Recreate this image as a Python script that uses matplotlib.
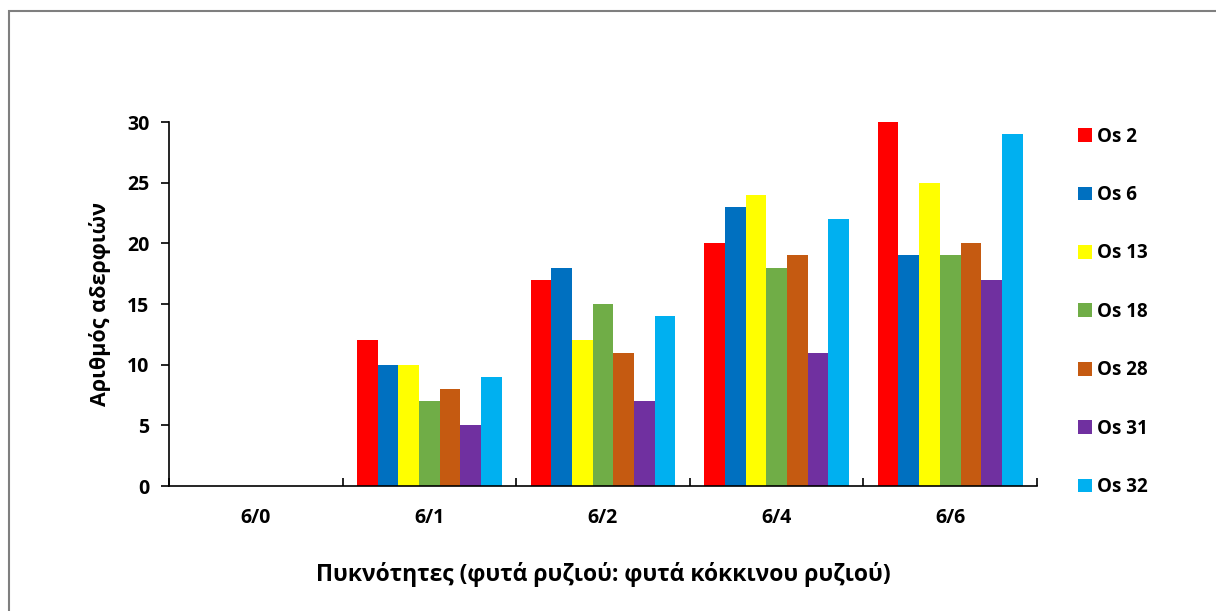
import numpy as np
import matplotlib
matplotlib.use("Agg")
import matplotlib.pyplot as plt
from matplotlib.patches import Rectangle

plt.rcParams['font.family'] = ['Open Sans', 'DejaVu Sans']
plt.rcParams['font.weight'] = 'bold'

# data
densities = ["6/0", "6/1", "6/2", "6/4", "6/6"]
lines = ["Os 2", "Os 6", "Os 13", "Os 18", "Os 28", "Os 31", "Os 32"]
os2 = [0, 12, 17, 20, 30]
os6 = [0, 10, 18, 23, 19]
os13 = [0, 10, 12, 24, 25]
os18 = [0, 7, 15, 18, 19]
os28 = [0, 8, 11, 19, 20]
os31 = [0, 5, 7, 11, 17]
os32 = [0, 9, 14, 22, 29]
colors = ["#FF0000", "#0070C0", "#FFFF00", "#70AD47", "#C55A11", "#7030A0", "#00B0F0"]

series = [os2, os6, os13, os18, os28, os31, os32]

fig = plt.figure(figsize=(12.16, 6.11), dpi=100)
ax = fig.add_axes([169 / 1216, 1 - 486 / 611, (1037 - 169) / 1216, (486 - 122) / 611])

x = np.arange(len(densities))
group_w = 0.835
bw = group_w / len(series)
for i, (vals, lab, c) in enumerate(zip(series, lines, colors)):
    ax.bar(x - group_w / 2 + bw * (i + 0.5), vals, width=bw, color=c, label=lab)

ax.set_xlim(-0.5, len(densities) - 0.5)
ax.set_ylim(0, 30)
ax.set_yticks(range(0, 31, 5))
ax.set_xticks(x)
ax.set_xticklabels(densities)
ax.set_xticks(np.arange(-0.5, len(densities), 1), minor=True)
ax.tick_params(axis='x', which='major', length=0, pad=16, labelsize=14)
ax.tick_params(axis='x', which='minor', direction='in', length=6, width=1.2)
ax.tick_params(axis='y', direction='out', length=6, width=1.2, labelsize=14, pad=8)
for s in ['top', 'right']:
    ax.spines[s].set_visible(False)
for s in ['left', 'bottom']:
    ax.spines[s].set_linewidth(1.2)

ax.set_ylabel("Αριθμός αδερφιών", fontsize=15.5, fontweight='bold', labelpad=12)
ax.set_xlabel("Πυκνότητες (φυτά ρυζιού: φυτά κόκκινου ρυζιού)", fontsize=16.5,
              fontweight='bold', labelpad=24)

fig.legend(loc='upper left', bbox_to_anchor=(1070 / 1216, 1 - 119 / 611),
           frameon=False, fontsize=13.5, handlelength=0.75, handleheight=0.75,
           handletextpad=0.3, labelspacing=2.05, borderaxespad=0)

# outer chart border
fig.patches.append(Rectangle((9 / 1216, -0.1), 1.2, 1 - 11 / 611 + 0.1,
                             transform=fig.transFigure, fill=False,
                             edgecolor='#7f7f7f', linewidth=1.5))

fig.savefig("out.png", dpi=100)
